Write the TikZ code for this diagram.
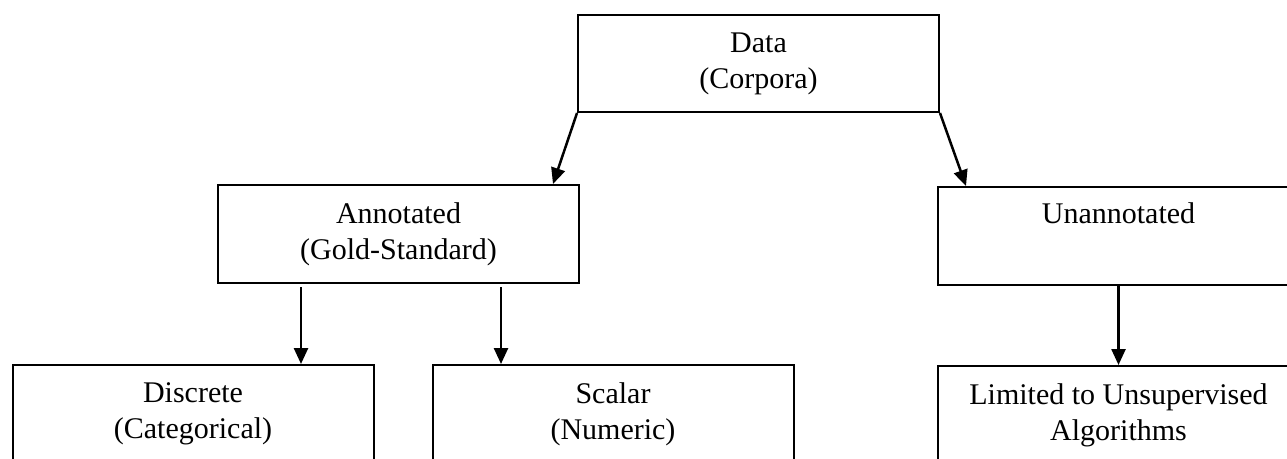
\documentclass[tikz,border=0pt]{standalone}
\usepackage{fontspec}
\setmainfont{Liberation Serif}
\usetikzlibrary{arrows.meta}

\tikzset{
  box/.style={draw, line width=2pt, rectangle, minimum width=361pt,
    minimum height=98pt, inner sep=0pt, align=center,
    font=\fontsize{30pt}{36pt}\selectfont},
  link/.style={line width=2.5pt, -{Triangle[length=16pt,width=14pt]}}
}

\begin{document}
\begin{tikzpicture}[x=1pt,y=-1pt]
  \useasboundingbox (0,0) rectangle (1287,458);
  \clip (0,0) rectangle (1287,458);

  % top level
  \node[box, minimum height=97pt] (data) at (758.5,63.5) {Data\\(Corpora)};

  % second level
  \node[box] (annot) at (398.5,234) {Annotated\\(Gold-Standard)};
  \node[box] (unann) at (1118.5,236) {Unannotated\\\strut};

  % third level
  \node[box] (disc) at (193,414) {Discrete\\(Categorical)};
  \node[box] (scal) at (613,414) {Scalar\\(Numeric)};
  \node[box] (lim) at (1118.5,415) {Limited to Unsupervised\\Algorithms};

  % connectors
  \draw[link] (data.south west) -- ([xshift=-27pt]annot.north east);
  \draw[link] (data.south east) -- ([xshift=29pt]unann.north west);
  \draw[link] ([xshift=84pt,yshift=-3pt]annot.south west) -- ([xshift=84pt]annot.south west |- disc.north);
  \draw[link] ([xshift=284pt,yshift=-3pt]annot.south west) -- ([xshift=284pt]annot.south west |- scal.north);
  \draw[link] (unann.south) -- (lim.north);
\end{tikzpicture}
\end{document}
